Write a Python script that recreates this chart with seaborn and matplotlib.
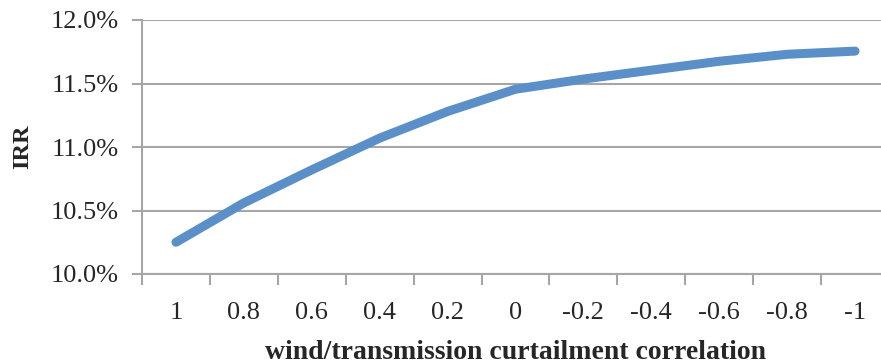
import matplotlib
matplotlib.use("Agg")
import matplotlib.pyplot as plt
import seaborn as sns
import pandas as pd
import numpy as np
from matplotlib.ticker import FixedLocator, FuncFormatter

categories = ["1", "0.8", "0.6", "0.4", "0.2", "0", "-0.2", "-0.4", "-0.6", "-0.8", "-1"]
irr = [10.25, 10.56, 10.82, 11.07, 11.28, 11.455, 11.535, 11.605, 11.675, 11.73, 11.755]
y_ticks = [10.0, 10.5, 11.0, 11.5, 12.0]

sns.set_style("white")
plt.rcParams['font.family'] = ['Liberation Serif', 'DejaVu Serif']

df = pd.DataFrame({"corr": categories, "irr": irr})

W, H = 881, 364
fig = plt.figure(figsize=(W/100, H/100), dpi=100)
ax = fig.add_axes([142/W, (H-274)/H, (889-142)/W, 254/H])

sns.lineplot(data=df, x="corr", y="irr", ax=ax, color="#5B8FC7", linewidth=6.5,
             solid_capstyle="round", sort=False)

ax.set_xlim(-0.5, len(categories)-0.5)
ax.set_ylim(10.0, 12.0)
ax.set_yticks(y_ticks)
ax.yaxis.set_major_formatter(FuncFormatter(lambda v, p: f"{v:.1f}%"))
ax.grid(axis="y", color="#A6A6A6", linewidth=1.5)
ax.set_axisbelow(True)

ax.set_xticks(range(len(categories)))
ax.set_xticklabels(categories)
ax.xaxis.set_minor_locator(FixedLocator(np.arange(-0.5, len(categories), 1.0)))
ax.tick_params(axis="x", which="major", length=0, pad=20, labelsize=19)
ax.tick_params(axis="x", which="minor", length=8, width=1.5, color="#A6A6A6", direction="out", bottom=True)
ax.tick_params(axis="y", which="major", length=7, width=1.5, color="#A6A6A6", direction="out", left=True, pad=10, labelsize=19)

for s in ["top", "right"]:
    ax.spines[s].set_visible(False)
for s in ["left", "bottom"]:
    ax.spines[s].set_color("#A6A6A6")
    ax.spines[s].set_linewidth(1.5)

ax.set_xlabel("wind/transmission curtailment correlation", fontsize=20, fontweight="bold", labelpad=12)
ax.set_ylabel("IRR", fontsize=17.5, fontweight="bold", labelpad=12)

fig.savefig("out.png", dpi=100)
